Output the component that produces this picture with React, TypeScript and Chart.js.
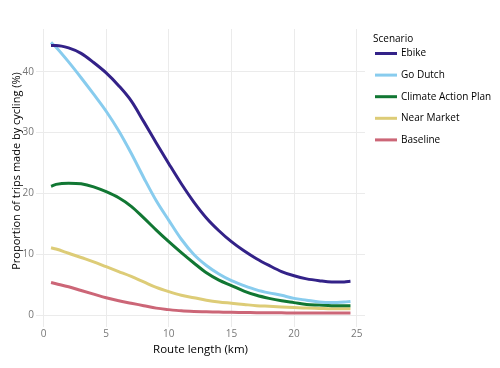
import React, { useEffect, useRef } from "react";
import { Chart, registerables } from "chart.js";

Chart.register(...registerables);

const distances = [0.6, 1, 2, 3, 4, 5, 6, 7, 8, 9, 10, 11, 12, 13, 14, 15, 16, 17, 18, 19, 20, 21, 22, 23, 24, 24.5];

const ebike = [44.3, 44.3, 43.9, 43.0, 41.5, 39.8, 37.7, 35.2, 31.8, 28.3, 24.9, 21.6, 18.6, 16.0, 13.9, 12.1, 10.6, 9.3, 8.2, 7.2, 6.5, 6.0, 5.7, 5.5, 5.5, 5.6];
const goDutch = [44.8, 44.0, 41.6, 39.0, 36.3, 33.5, 30.3, 26.6, 22.6, 18.8, 15.6, 12.5, 10.0, 8.2, 6.8, 5.7, 4.9, 4.2, 3.7, 3.3, 2.8, 2.5, 2.2, 2.1, 2.2, 2.3];
const climateActionPlan = [21.2, 21.5, 21.7, 21.6, 21.1, 20.3, 19.3, 17.9, 16.0, 14.0, 12.1, 10.3, 8.6, 7.0, 5.8, 4.9, 4.0, 3.3, 2.8, 2.4, 2.1, 1.8, 1.7, 1.6, 1.6, 1.6];
const nearMarket = [11.1, 10.9, 10.2, 9.5, 8.8, 8.0, 7.2, 6.4, 5.5, 4.6, 3.9, 3.3, 2.9, 2.5, 2.2, 2.0, 1.8, 1.6, 1.5, 1.4, 1.3, 1.2, 1.15, 1.1, 1.1, 1.1];
const baseline = [5.4, 5.2, 4.7, 4.1, 3.5, 2.9, 2.4, 2.0, 1.6, 1.2, 0.95, 0.75, 0.65, 0.6, 0.55, 0.5, 0.48, 0.45, 0.43, 0.42, 0.4, 0.4, 0.4, 0.4, 0.4, 0.4];

const scenarioNames = ["Ebike", "Go Dutch", "Climate Action Plan", "Near Market", "Baseline"];
const scenarioColors = ["#332288", "#88CCEE", "#117733", "#DDCC77", "#CC6677"];
const scenarioValues = [ebike, goDutch, climateActionPlan, nearMarket, baseline];

const xTicks = [0, 5, 10, 15, 20, 25];
const yTicks = [0, 10, 20, 30, 40];

const legendTitle = "Scenario";
const xTitle = "Route length (km)";
const yTitle = "Proportion of trips made by cycling (%)";

const FONT = "'Open Sans', 'DejaVu Sans', sans-serif";

const textPlugin = {
  id: "customText",
  afterDraw(chart: any) {
    const ctx = chart.ctx;
    ctx.save();
    // legend
    ctx.font = `10px ${FONT}`;
    ctx.fillStyle = "#000000";
    ctx.textBaseline = "middle";
    ctx.textAlign = "left";
    ctx.fillText(legendTitle, 373, 39);
    scenarioNames.forEach((name, i) => {
      const y = 53.5 + i * 21.6;
      ctx.strokeStyle = scenarioColors[i];
      ctx.lineWidth = 3;
      ctx.beginPath();
      ctx.moveTo(375, y);
      ctx.lineTo(397, y);
      ctx.stroke();
      ctx.fillStyle = "#000000";
      ctx.fillText(name, 401, y);
    });
    // axis titles
    ctx.font = `11.5px ${FONT}`;
    ctx.textAlign = "center";
    ctx.fillStyle = "#000000";
    const area = chart.chartArea;
    ctx.fillText(xTitle, (area.left + area.right) / 2, 350);
    ctx.translate(17, 171);
    ctx.rotate(-Math.PI / 2);
    ctx.font = `11px ${FONT}`;
    ctx.fillText(yTitle, 0, 0);
    ctx.restore();
  },
};

export default function App() {
  const canvasRef = useRef<HTMLCanvasElement | null>(null);

  useEffect(() => {
    document.body.style.margin = "0";
    const canvas = canvasRef.current;
    if (!canvas) return;
    const chart = new Chart(canvas, {
      type: "line",
      data: {
        datasets: scenarioNames.map((name, i) => ({
          label: name,
          data: distances.map((d, j) => ({ x: d, y: scenarioValues[i][j] })),
          borderColor: scenarioColors[i],
          backgroundColor: scenarioColors[i],
          borderWidth: 3,
          pointRadius: 0,
          fill: false,
          cubicInterpolationMode: "monotone" as const,
        })),
      },
      options: {
        animation: false,
        responsive: false,
        maintainAspectRatio: false,
        layout: { padding: { left: 0, top: 29, right: 135, bottom: 0 } },
        plugins: {
          legend: { display: false },
          tooltip: { enabled: false },
        },
        scales: {
          x: {
            type: "linear",
            min: -0.6,
            max: 25.66,
            afterBuildTicks: (scale: any) => {
              scale.ticks = xTicks.map((v) => ({ value: v }));
            },
            afterFit: (scale: any) => {
              scale.height = 41;
            },
            grid: { color: "#EBEBEB", lineWidth: 1, drawTicks: false },
            border: { display: false },
            ticks: {
              color: "#777777",
              font: { family: FONT, size: 10 },
              padding: 1,
              maxRotation: 0,
            },
          },
          y: {
            type: "linear",
            min: -1.9,
            max: 47.0,
            afterBuildTicks: (scale: any) => {
              scale.ticks = yTicks.map((v) => ({ value: v }));
            },
            afterFit: (scale: any) => {
              scale.width = 36;
            },
            grid: { color: "#EBEBEB", lineWidth: 1, drawTicks: false },
            border: { display: false },
            ticks: {
              color: "#777777",
              font: { family: FONT, size: 10 },
              padding: 2,
            },
          },
        },
      },
      plugins: [textPlugin],
    });
    return () => chart.destroy();
  }, []);

  return (
    <div style={{ width: 500, height: 368, background: "#ffffff" }}>
      <canvas ref={canvasRef} width={500} height={368} style={{ display: "block" }} />
    </div>
  );
}
